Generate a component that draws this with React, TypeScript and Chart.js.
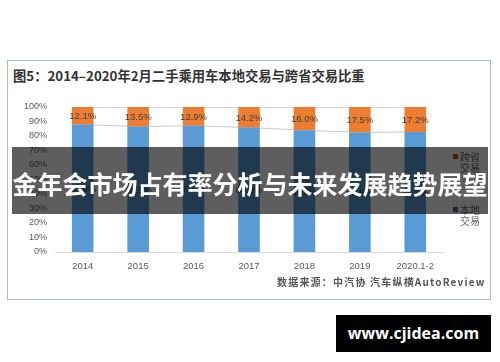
import React, { useEffect, useRef } from "react";
import { Chart, registerables } from "chart.js";

Chart.register(...registerables);

const categories = ["2014", "2015", "2016", "2017", "2018", "2019", "2020.1-2"];
const localShare = [87.9, 86.5, 87.1, 85.8, 84.0, 82.5, 82.8];
const crossShare = [12.1, 13.5, 12.9, 14.2, 16.0, 17.5, 17.2];
const topLine = [100, 100, 100, 100, 100, 100, 100];
const seriesNames = ["本地交易", "跨省交易"];
const legendLines = [["跨省", "交易"], ["本地", "交易"]];
const titleText = "图5：2014–2020年2月二手乘用车本地交易与跨省交易比重";
const sourceText = "数据来源：中汽协 汽车纵横AutoReview";
const bannerText = "金年会市场占有率分析与未来发展趋势展望";
const siteText = "www.cjidea.com";

const BLUE = "#5b9bd5";
const ORANGE = "#ed7d31";

const labelPlugin = {
  id: "barLabels",
  afterDatasetsDraw(chart: any) {
    const ctx = chart.ctx;
    ctx.save();
    ctx.font = "9.5px 'Liberation Sans', Arial, sans-serif";
    ctx.fillStyle = "#404040";
    ctx.textAlign = "center";
    ctx.textBaseline = "middle";
    chart.data.datasets.forEach((ds: any, di: number) => {
      if (ds.type !== "bar") return;
      const meta = chart.getDatasetMeta(di);
      meta.data.forEach((el: any, i: number) => {
        const v = ds.data[i];
        const y = (el.y + el.base) / 2;
        ctx.fillText(v.toFixed(1) + "%", el.x, y + 1);
      });
    });
    ctx.restore();
  },
};

const legendPlugin = {
  id: "sideLegend",
  afterDraw(chart: any) {
    const ctx = chart.ctx;
    ctx.save();
    ctx.font = "10px 'Noto Sans CJK SC', sans-serif";
    ctx.textBaseline = "middle";
    ctx.textAlign = "left";
    const colors = [ORANGE, BLUE];
    const ys = [157, 210];
    legendLines.forEach((lines, k) => {
      ctx.fillStyle = colors[k] === ORANGE ? "#c0501f" : "#2e6fa8";
      ctx.fillRect(453, ys[k] - 3, 5, 5);
      ctx.fillStyle = "#666666";
      ctx.fillText(lines[0], 460, ys[k]);
      ctx.fillText(lines[1], 460, ys[k] + 11);
    });
    ctx.restore();
  },
};

export default function App() {
  const ref = useRef<HTMLCanvasElement>(null);
  useEffect(() => {
    if (!ref.current) return;
    const chart = new Chart(ref.current, {
      type: "bar",
      data: {
        labels: categories,
        datasets: [
          {
            type: "line",
            label: "l1",
            data: localShare,
            borderColor: "#c8c8c8",
            borderWidth: 1,
            pointRadius: 0,
            stack: "l1",
            order: 5,
          } as any,
          {
            type: "line",
            label: "l2",
            data: topLine,
            borderColor: "#c8c8c8",
            borderWidth: 1.5,
            pointRadius: 0,
            stack: "l2",
            order: 5,
          } as any,
          {
            type: "bar",
            label: seriesNames[0],
            data: localShare,
            backgroundColor: BLUE,
            stack: "s",
            order: 1,
            barPercentage: 0.78,
            categoryPercentage: 0.5,
          },
          {
            type: "bar",
            label: seriesNames[1],
            data: crossShare,
            backgroundColor: ORANGE,
            stack: "s",
            order: 1,
            barPercentage: 0.78,
            categoryPercentage: 0.5,
          },
        ],
      },
      options: {
        responsive: false,
        animation: false,
        layout: { padding: { left: 10, right: 57, top: 107, bottom: 80 } },
        plugins: { legend: { display: false }, tooltip: { enabled: false } },
        scales: {
          x: {
            stacked: true,
            grid: { display: false, drawTicks: false },
            border: { display: true, color: "#d9d9d9", width: 1 },
            ticks: {
              color: "#595959",
              font: { size: 9.5, family: "'Liberation Sans', Arial, sans-serif" },
              padding: 9,
              autoSkip: false,
              maxRotation: 0,
            },
            afterFit: (s: any) => {
              s.height = 30;
            },
          },
          y: {
            stacked: true,
            min: 0,
            max: 100,
            grid: { display: false, drawTicks: false },
            border: { display: false },
            ticks: {
              stepSize: 10,
              color: "#595959",
              font: { size: 9, family: "'Liberation Sans', Arial, sans-serif" },
              padding: 8,
              callback: (v: any) => v + "%",
            },
            afterFit: (s: any) => {
              s.width = 45;
            },
          },
        },
      },
      plugins: [labelPlugin, legendPlugin],
    });
    return () => chart.destroy();
  }, []);

  return (
    <div style={{ position: "absolute", left: 0, top: 0, width: 500, height: 362, background: "#fff", overflow: "hidden" }}>
      <div
        style={{
          position: "absolute",
          left: 7,
          top: 60,
          width: 484,
          height: 240,
          border: "1.5px solid #a6bbd0",
          boxSizing: "border-box",
        }}
      />
      <div
        style={{
          position: "absolute",
          left: 13,
          top: 66,
          fontFamily: "'Noto Sans CJK SC', sans-serif",
          fontWeight: 700,
          fontSize: 13.3,
          lineHeight: "20px",
          color: "#333",
          whiteSpace: "nowrap",
        }}
      >
        {titleText}
      </div>
      <canvas ref={ref} width={500} height={362} style={{ position: "absolute", left: 0, top: 0 }} />
      <div
        style={{
          position: "absolute",
          left: 277,
          top: 275,
          fontFamily: "'Noto Sans CJK SC', sans-serif",
          fontWeight: 700,
          fontSize: 10,
          letterSpacing: "1.2px",
          lineHeight: "14px",
          color: "#555",
          whiteSpace: "nowrap",
        }}
      >
        {sourceText}
      </div>
      <div
        style={{
          position: "absolute",
          left: 12,
          top: 147,
          width: 476,
          height: 67,
          background: "rgba(0,0,0,0.63)",
        }}
      />
      <div
        style={{
          position: "absolute",
          left: 0,
          top: 166,
          width: 500,
          textAlign: "center",
          fontFamily: "'Noto Sans CJK SC', sans-serif",
          fontWeight: 700,
          fontSize: 25,
          lineHeight: "34px",
          color: "#fff",
          whiteSpace: "nowrap",
        }}
      >
        {bannerText}
      </div>
      <div
        style={{
          position: "absolute",
          left: 336,
          top: 315,
          width: 155,
          height: 37,
          background: "#000",
          color: "#fff",
          fontFamily: "'Open Sans', sans-serif",
          fontWeight: 700,
          fontSize: 16,
          lineHeight: "37px",
          textAlign: "center",
          whiteSpace: "nowrap",
        }}
      >
        {siteText}
      </div>
    </div>
  );
}
